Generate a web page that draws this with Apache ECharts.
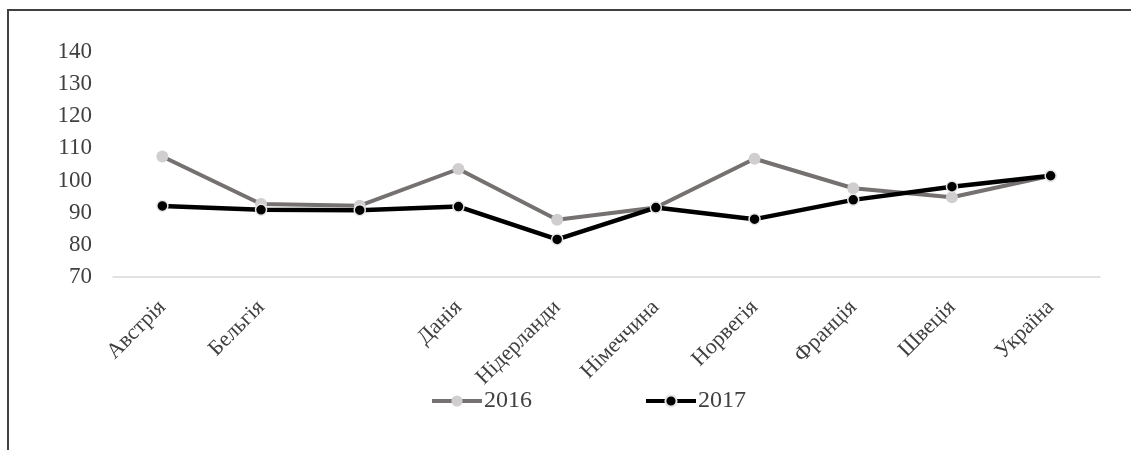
<!DOCTYPE html>
<html>
<head>
<meta charset="utf-8">
<script src="https://cdn.jsdelivr.net/npm/echarts@6/dist/echarts.min.js"></script>
<style>
html,body{margin:0;padding:0;background:#fff;}
#c{width:1131px;height:450px;}
</style>
</head>
<body>
<div id="c"></div>
<script>
const categories = ['Австрія', 'Бельгія', '', 'Данія', 'Нідерланди', 'Німеччина', 'Норвегія', 'Франція', 'Швеція', 'Україна'];
const values2016 = [107.5, 92.7, 92.2, 103.6, 87.8, 91.6, 106.8, 97.6, 94.8, 101.5];
const values2017 = [92.1, 90.9, 90.8, 91.9, 81.7, 91.6, 88.0, 94.0, 98.1, 101.5];
const seriesNames = ['2016', '2017'];

const FONT = '"Liberation Serif", "Times New Roman", serif';
const chart = echarts.init(document.getElementById('c'), null, {renderer: 'canvas'});
chart.setOption({
  animation: false,
  backgroundColor: '#fff',
  textStyle: {fontFamily: FONT},
  graphic: [{
    type: 'rect',
    shape: {x: 8, y: 10, width: 1200, height: 600},
    style: {fill: 'none', stroke: '#404040', lineWidth: 2},
    silent: true
  }],
  grid: {left: 113, right: 31, top: 52, bottom: 173, containLabel: false},
  legend: {
    left: 425,
    top: 384,
    itemWidth: 50,
    itemHeight: 14,
    itemGap: 112,
    lineStyle: {width: 4},
    textStyle: {fontFamily: FONT, fontSize: 24, color: '#404040', padding: [0,0,0,-3]},
    data: seriesNames
  },
  xAxis: {
    type: 'category',
    data: categories,
    boundaryGap: true,
    axisLine: {show: true, lineStyle: {color: '#d9d9d9', width: 1.5}},
    axisTick: {show: false},
    axisLabel: {
      interval: 0,
      rotate: 45,
      margin: 27,
      fontFamily: FONT,
      fontSize: 22,
      color: '#404040'
    },
    splitLine: {show: false}
  },
  yAxis: {
    type: 'value',
    min: 70,
    max: 140,
    interval: 10,
    axisLine: {show: false},
    axisTick: {show: false},
    splitLine: {show: false},
    axisLabel: {fontFamily: FONT, fontSize: 23, color: '#404040', margin: 21}
  },
  series: [
    {
      name: seriesNames[0],
      type: 'line',
      data: values2016,
      symbol: 'circle',
      symbolSize: 12,
      lineStyle: {color: '#767171', width: 4},
      itemStyle: {color: '#d0cece', borderColor: '#d0cece', borderWidth: 0},
      z: 2
    },
    {
      name: seriesNames[1],
      type: 'line',
      data: values2017,
      symbol: 'circle',
      symbolSize: 11,
      lineStyle: {color: '#000000', width: 4.5},
      itemStyle: {color: '#000000', borderColor: '#e6e6e6', borderWidth: 1.5},
      z: 3
    }
  ]
});
</script>
</body>
</html>
